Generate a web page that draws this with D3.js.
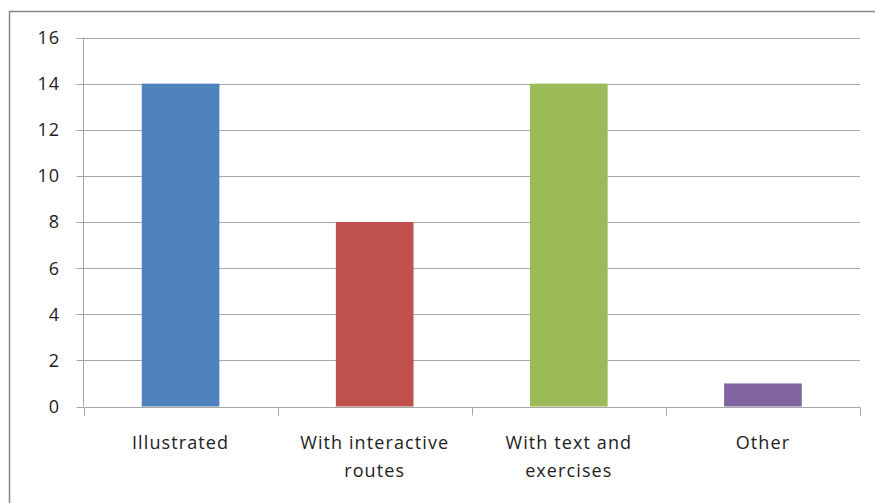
<!DOCTYPE html>
<html>
<head>
<meta charset="utf-8">
<script src="https://cdn.jsdelivr.net/npm/d3@7"></script>
<style>
  body { margin: 0; background: #fff; }
  svg { display: block; }
  text { font-family: "Open Sans", sans-serif; fill: #222; }
</style>
</head>
<body>
<div class="chart"></div>
<script>
const categories = ['Illustrated', 'With interactive routes', 'With text and exercises', 'Other'];
const labelLines = [['Illustrated'], ['With interactive', 'routes'], ['With text and', 'exercises'], ['Other']];
const values = [14, 8, 14, 1];
const colors = ['#4F81BD', '#C0504D', '#9BBB59', '#8064A2'];
const yTicks = [0, 2, 4, 6, 8, 10, 12, 14, 16];

const width = 875, height = 503;
const margin = {left: 83.5, right: 15, top: 37.5, bottom: 96.5};

const svg = d3.select('.chart')
  .append('svg')
    .attr('width', width)
    .attr('height', height);

// outer chart border (runs off the right and bottom)
svg.append('rect')
  .attr('x', 9.5).attr('y', 11.5)
  .attr('width', width + 10).attr('height', height + 10)
  .attr('fill', 'none')
  .attr('stroke', '#888')
  .attr('stroke-width', 1.5);

const x = d3.scaleBand()
  .domain(categories)
  .range([margin.left, width - margin.right]);

const y = d3.scaleLinear()
  .domain([0, 16])
  .range([height - margin.bottom, margin.top]);

// gridlines
svg.append('g')
  .selectAll('line')
  .data(yTicks)
  .enter().append('line')
    .attr('x1', margin.left - 7)
    .attr('x2', width - margin.right)
    .attr('y1', d => Math.round(y(d)) + 0.5)
    .attr('y2', d => Math.round(y(d)) + 0.5)
    .attr('stroke', '#a6a6a6')
    .attr('stroke-width', 1);

// y axis line
svg.append('line')
  .attr('x1', margin.left).attr('x2', margin.left)
  .attr('y1', y(16)).attr('y2', y(0))
  .attr('stroke', '#a6a6a6');

// y labels
svg.append('g')
  .selectAll('text')
  .data(yTicks)
  .enter().append('text')
    .attr('x', 60)
    .attr('y', d => y(d))
    .attr('dy', '0.36em')
    .attr('text-anchor', 'end')
    .style('font-size', '18px')
    .style('letter-spacing', '1px')
    .text(d => d);

// bars
const barW = x.bandwidth() * 0.4;
svg.append('g')
  .selectAll('rect')
  .data(values)
  .enter().append('rect')
    .attr('x', (d, i) => x(categories[i]) + (x.bandwidth() - barW) / 2)
    .attr('y', d => y(d))
    .attr('width', barW)
    .attr('height', d => y(0) - y(d))
    .attr('fill', (d, i) => colors[i]);

// x axis baseline + category ticks
const base = Math.round(y(0)) + 0.5;
svg.append('line')
  .attr('x1', margin.left).attr('x2', width - margin.right)
  .attr('y1', base).attr('y2', base)
  .attr('stroke', '#a6a6a6');

const tickPos = categories.map(c => x(c)).concat([x.range()[1]]);
svg.append('g')
  .selectAll('line')
  .data(tickPos)
  .enter().append('line')
    .attr('x1', d => Math.round(d) + 0.5)
    .attr('x2', d => Math.round(d) + 0.5)
    .attr('y1', base).attr('y2', base + 8)
    .attr('stroke', '#a6a6a6');

// category labels
const lbl = svg.append('g')
  .selectAll('text')
  .data(labelLines)
  .enter().append('text')
    .attr('text-anchor', 'middle')
    .style('font-size', '18px')
    .style('letter-spacing', '1.1px')
    .attr('x', (d, i) => x(categories[i]) + x.bandwidth() / 2)
    .attr('y', 449);

lbl.selectAll('tspan')
  .data(d => d)
  .enter().append('tspan')
    .attr('x', function() { return this.parentNode.getAttribute('x'); })
    .attr('dy', (d, i) => i === 0 ? 0 : 28)
    .text(d => d);
</script>
</body>
</html>
